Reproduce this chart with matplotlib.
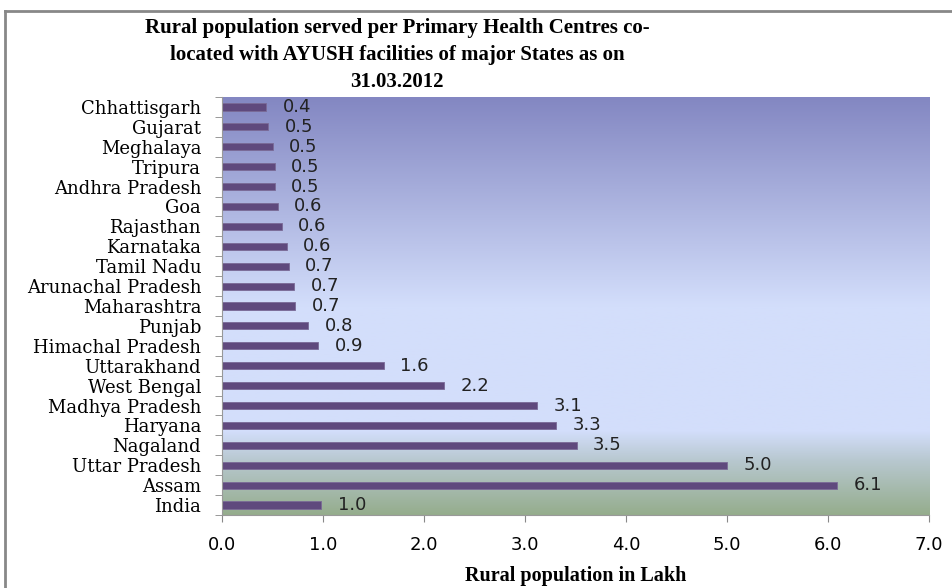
import numpy as np
import matplotlib
matplotlib.use("Agg")
import matplotlib.pyplot as plt
from matplotlib.colors import LinearSegmentedColormap
from matplotlib.lines import Line2D

states = ["India", "Assam", "Uttar Pradesh", "Nagaland", "Haryana", "Madhya Pradesh",
          "West Bengal", "Uttarakhand", "Himachal Pradesh", "Punjab", "Maharashtra",
          "Arunachal Pradesh", "Tamil Nadu", "Karnataka", "Rajasthan", "Goa",
          "Andhra Pradesh", "Tripura", "Meghalaya", "Gujarat", "Chhattisgarh"]
values = [0.98, 6.09, 5.0, 3.51, 3.31, 3.12, 2.2, 1.6, 0.95, 0.85, 0.72,
          0.71, 0.66, 0.64, 0.59, 0.55, 0.52, 0.52, 0.50, 0.46, 0.44]
labels = ["1.0", "6.1", "5.0", "3.5", "3.3", "3.1", "2.2", "1.6", "0.9", "0.8", "0.7",
          "0.7", "0.7", "0.6", "0.6", "0.6", "0.5", "0.5", "0.5", "0.5", "0.4"]
xticks = [0, 1, 2, 3, 4, 5, 6, 7]
title = "Rural population served per Primary Health Centres co-\nlocated with AYUSH facilities of major States as on\n31.03.2012"
xlabel = "Rural population in Lakh"

fig = plt.figure(figsize=(9.52, 5.88), dpi=100)
ax = fig.add_axes([222/952, 1-515/588, (929-222)/952, (515-97)/588])

# gradient background
cmap = LinearSegmentedColormap.from_list("bg", [
    (0.0, "#8387c2"), (0.50, "#d3defb"), (0.80, "#d3defb"),
    (0.87, "#b8c8d0"), (1.0, "#95ad8d")])
grad = np.linspace(0, 1, 256).reshape(-1, 1)
ax.imshow(grad, cmap=cmap, aspect="auto", extent=[0, 1, 0, 1],
          transform=ax.transAxes, zorder=0, origin="upper")

y = np.arange(len(states))
ax.barh(y, values, height=0.36, color="#5f497d", edgecolor="#7a6a96",
        linewidth=0.6, zorder=2)
for yi, v, lab in zip(y, values, labels):
    ax.annotate(lab, (v, yi), xytext=(12, 0), textcoords="offset points",
                ha="left", va="center", fontsize=13, family="DejaVu Sans",
                color="#222222", zorder=3)

ax.set_xlim(0, 7)
ax.set_ylim(-0.5, len(states) - 0.5)
ax.set_xticks(xticks)
ax.set_xticklabels([f"{t:.1f}" for t in xticks], family="DejaVu Sans", fontsize=13)
ax.set_yticks(y)
ax.set_yticklabels(states, family="DejaVu Serif", fontsize=13)
ax.set_yticks(np.arange(-0.5, len(states), 1), minor=True)
ax.tick_params(axis="y", which="major", length=0, pad=15)
ax.tick_params(axis="y", which="minor", length=5, color="#888888")
ax.tick_params(axis="x", which="major", length=5, color="#888888", pad=10)
for s in ["top", "right"]:
    ax.spines[s].set_visible(False)
for s in ["left", "bottom"]:
    ax.spines[s].set_color("#999999")
ax.set_xlabel(xlabel, family="Liberation Serif", fontsize=14.5, fontweight="bold",
              labelpad=9)

fig.text(397/952, 1-55/588, title, ha="center", va="center", family="Liberation Serif",
         fontsize=15, fontweight="bold", linespacing=1.45)

# outer frame lines (top and left)
fig.add_artist(Line2D([5/952, 5/952], [0, 1-11/588], transform=fig.transFigure,
                      color="#888888", lw=2))
fig.add_artist(Line2D([5/952, 1], [1-11/588, 1-11/588], transform=fig.transFigure,
                      color="#888888", lw=2))

fig.savefig("out.png", dpi=100)
